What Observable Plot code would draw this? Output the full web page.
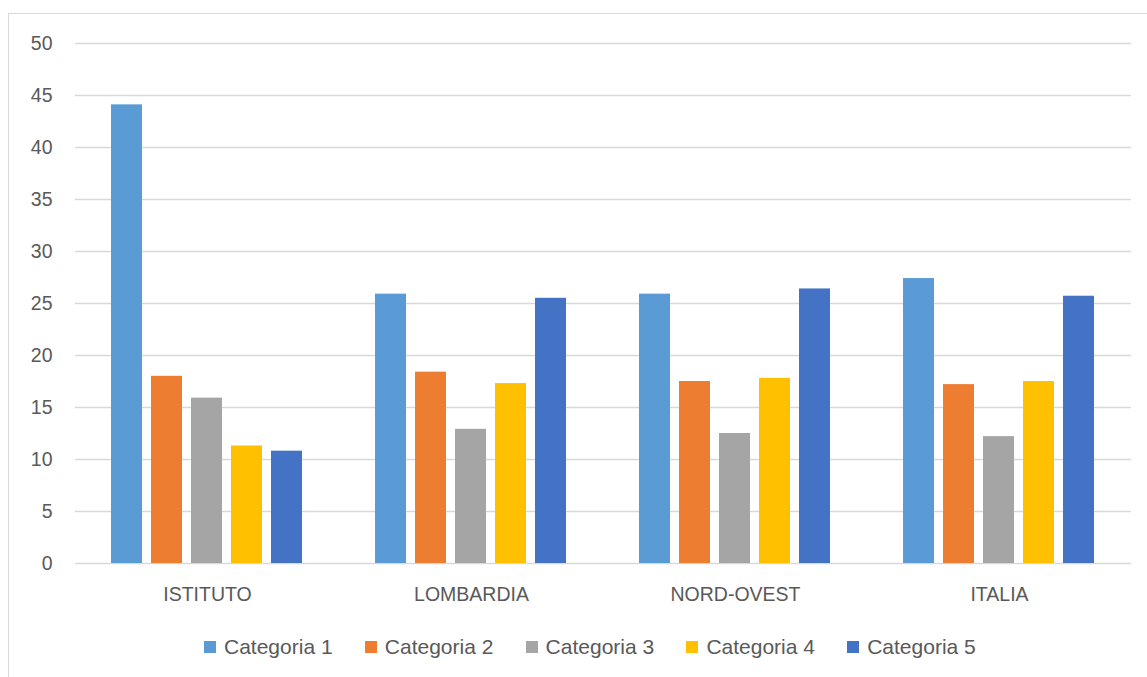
<!DOCTYPE html>
<html>
<head>
<meta charset="utf-8">
<script src="https://cdn.jsdelivr.net/npm/d3@7"></script>
<script src="https://cdn.jsdelivr.net/npm/@observablehq/plot@0.6"></script>
<style>
  html, body { margin: 0; padding: 0; background: #fff; }
  #wrap { position: relative; width: 1147px; height: 677px; overflow: hidden; font-family: "Liberation Sans", Arial, sans-serif; color: #595959; }
  #frame { position: absolute; left: 8px; top: 13px; width: 1200px; height: 700px; border-left: 1.5px solid #d9d9d9; border-top: 1.5px solid #d9d9d9; }
  #chart { position: absolute; left: 0; top: 0; }
  #legend { position: absolute; left: 204px; top: 636px; display: flex; font-size: 21px; line-height: 22px; }
  .item { width: 160.8px; display: flex; align-items: center; white-space: nowrap; }
  .sw { width: 12px; height: 12px; margin-right: 8px; flex: none; }
</style>
</head>
<body>
<div id="wrap">
  <div id="frame"></div>
  <div id="chart"></div>
  <div id="legend"></div>
</div>
<script>
const groups = ["ISTITUTO", "LOMBARDIA", "NORD-OVEST", "ITALIA"];
const series = ["Categoria 1", "Categoria 2", "Categoria 3", "Categoria 4", "Categoria 5"];
const colors = ["#5B9BD5", "#ED7D31", "#A5A5A5", "#FFC000", "#4472C4"];
const cat1 = [44.1, 25.9, 25.9, 27.4];
const cat2 = [18.0, 18.4, 17.5, 17.2];
const cat3 = [15.9, 12.9, 12.5, 12.2];
const cat4 = [11.3, 17.3, 17.8, 17.5];
const cat5 = [10.8, 25.5, 26.4, 25.7];
const yTicks = [0, 5, 10, 15, 20, 25, 30, 35, 40, 45, 50];

const seriesValues = [cat1, cat2, cat3, cat4, cat5];
const data = [];
groups.forEach((g, gi) => {
  series.forEach((s, si) => {
    data.push({group: g, series: s, value: seriesValues[si][gi]});
  });
});

const chart = Plot.plot({
  width: 1147,
  height: 620,
  marginTop: 43,
  marginBottom: 57,
  marginLeft: 73,
  marginRight: 15,
  style: {fontSize: "19.5px", fontFamily: "'Liberation Sans', Arial, sans-serif", color: "#595959", background: "transparent", overflow: "visible"},
  fx: {domain: groups, padding: 0, label: null, axis: "bottom", tickSize: 0, tickPadding: 24},
  x: {domain: series, paddingInner: 0.215, paddingOuter: 0.859, axis: null},
  y: {domain: [0, 50], ticks: yTicks, tickSize: 0, tickPadding: 23, label: null, tickFormat: d => String(d)},
  color: {domain: series, range: colors},
  marks: [
    Plot.ruleY(yTicks, {stroke: "#d9d9d9", strokeWidth: 1.4}),
    Plot.barY(data, {fx: "group", x: "series", y: "value", fill: "series"})
  ]
});
document.getElementById("chart").appendChild(chart);

const legend = document.getElementById("legend");
series.forEach((s, i) => {
  const item = document.createElement("div");
  item.className = "item";
  const sw = document.createElement("span");
  sw.className = "sw";
  sw.style.background = colors[i];
  const t = document.createElement("span");
  t.textContent = s;
  item.appendChild(sw);
  item.appendChild(t);
  legend.appendChild(item);
});
</script>
</body>
</html>
